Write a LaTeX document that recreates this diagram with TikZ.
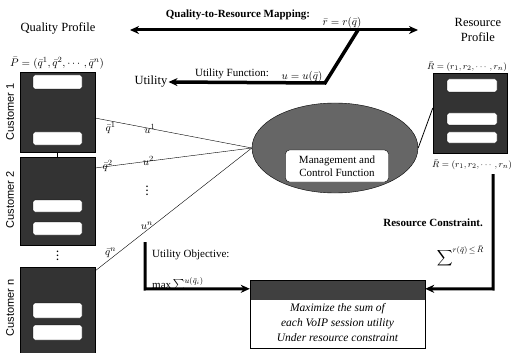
\documentclass[tikz,border=0pt]{standalone}
\usepackage{amssymb}
\usepackage{amsmath}
\usepackage{fontspec}
\setmainfont{Liberation Serif}
\newfontfamily\custfont{Liberation Sans}
\usetikzlibrary{arrows.meta,calc,shapes.geometric}

\tikzset{
  custbox/.style={draw=black, fill=black!80, minimum width=75pt, inner sep=0pt},
  slot/.style={draw=black, fill=white, rounded corners=2pt},
  bigarrow/.style={line width=3pt, -{Stealth[length=9pt,width=8pt]}},
  lbl/.style={font=\fontsize{11}{13}\selectfont, inner sep=1pt},
  smalllbl/.style={font=\fontsize{9.5}{11}\selectfont, inner sep=0.5pt},
  biglbl/.style={font=\fontsize{12.5}{15}\selectfont, inner sep=1pt},
  custlbl/.style={font=\custfont\fontsize{11}{13}\selectfont, rotate=90, inner sep=1pt},
}

\begin{document}
\begin{tikzpicture}[x=1pt, y=-1pt, >=Stealth]
\useasboundingbox (0,0) rectangle (512,353);

% quality profile side
\node[biglbl] (qp) at (58,28) {Quality Profile};
\node[lbl] (plabel) at (57,63) {$\bar{P}=(\bar{q}^1,\bar{q}^2,\cdots,\bar{q}^n)$};

\node[custbox, minimum height=80pt] (cust1) at (57.5,112) {};
\node[custbox, minimum height=88pt] (cust2) at (57.5,201) {};
\node[custbox, minimum height=86pt] (custn) at (57.5,310) {};
\draw[slot] (33,75) rectangle (82,89);
\draw[slot] (33,132) rectangle (82,145);
\draw[slot] (33,200) rectangle (82,212);
\draw[slot] (33,222) rectangle (82,235);
\draw[slot] (33,303) rectangle (82,318);
\draw[slot] (33,325) rectangle (82,340);
\draw[thick] (cust1.south) -- (cust2.north);
\node[font=\bfseries] (cdots) at (57.5,253) {$\vdots$};

\node[custlbl] (c1lbl) at (10,112) {Customer 1};
\node[custlbl] (c2lbl) at (10,200) {Customer 2};
\node[custlbl] (cnlbl) at (10,308) {Customer n};

% resource profile side
\node[biglbl, align=center] (rp) at (478,30) {Resource\\Profile};
\node[smalllbl] (rlabel) at (467,67) {$\bar{R}=(r_1,r_2,\cdots,r_n)$};
\node[custbox, minimum width=74pt, minimum height=80pt] (res) at (470,113) {};
\draw[slot] (447,79) rectangle (497,92);
\draw[slot] (447,113) rectangle (497,125);
\draw[slot] (447,132) rectangle (497,143);
\node[smalllbl] (rlabel2) at (472,165) {$\bar{R}=(r_1,r_2,\cdots,r_n)$};

% management and control
\node[ellipse, draw, fill=black!60, minimum width=166pt, minimum height=90pt] (mcf) at (335,148) {};
\node[draw, fill=white, rounded corners=4pt, minimum width=103pt, minimum height=32pt, align=center, lbl] (mgmt) at (337,166) {Management and\\Control Function};
\draw[thick] ($(res.west)+(0,-5)$) -- (mcf.east);

% customers to management
\coordinate (c1out) at (95,118);
\coordinate (c2out) at (95,168);
\coordinate (cnout) at (95,271);
\draw (c1out) -- (mcf.west)
  node[pos=0.1, below, lbl] {$\bar{q}^1$}
  node[pos=0.35, lbl] {$u^1$};
\draw (c2out) -- (mcf.west)
  node[pos=0.08, lbl] {$\bar{q}^2$}
  node[pos=0.34, lbl] {$u^2$};
\draw (cnout) -- (mcf.west)
  node[pos=0.1, above, lbl] {$\bar{q}^n$}
  node[pos=0.33, above, lbl] {$u^n$};
\node[font=\bfseries] (udots) at (147,188) {$\vdots$};

% mappings on top
\coordinate (mapL) at (130,30);
\coordinate (mapR) at (418,30);
\draw[line width=3pt, {Stealth[length=9pt,width=8pt]}-{Stealth[length=9pt,width=8pt]}] (mapL) -- (mapR);
\node[lbl, font=\bfseries\fontsize{11}{13}\selectfont] (maplbl) at (238,15) {Quality-to-Resource Mapping:};
\node[lbl] (rmap) at (342,23) {$\bar{r}=r(\bar{q})$};

\node[biglbl] (util) at (151,82) {Utility};
\coordinate (ufrom) at (358,30);
\coordinate (ubend) at (325,83);
\draw[bigarrow, line width=3.5pt] (ufrom) -- (ubend) -- (util.east);
\node[lbl] (ufunc) at (232,74) {Utility Function:};
\node[lbl] (umap) at (302,77) {$u=u(\bar{q})$};

% objective and constraint
\node[draw, fill=white, minimum width=175pt, minimum height=68pt] (goal) at (337.5,314) {};
\fill[black!75] (goal.north west) rectangle ($(goal.north east)+(0,20)$);
\draw (goal.north west) rectangle (goal.south east);
\node[align=center, font=\itshape\fontsize{11.5}{15}\selectfont] (goaltxt) at (337.5,323) {Maximize the sum of\\each VoIP session utility\\Under resource constraint};

\coordinate (objtop) at (145,242);
\coordinate (objbend) at (145,289);
\draw[bigarrow] (objtop) -- (objbend) -- ($(goal.north west)+(0,9)$);
\node[lbl, anchor=west] (objlbl) at (151,255) {Utility Objective:};
\node[lbl, anchor=west] (objmax) at (151,284) {$\max\sum\nolimits^{u(\bar{q}_i)}$};

\coordinate (restop) at (493,174);
\coordinate (resbend) at (493,289);
\draw[bigarrow] (restop) -- (resbend) -- ($(goal.north east)+(0,9)$);
\node[lbl, anchor=east, font=\bfseries\fontsize{11}{13}\selectfont] (reslbl) at (484,223) {Resource Constraint.};
\node[lbl, anchor=east] (resmax) at (485,256) {$\displaystyle\sum\nolimits^{r(\bar{q})\,\le\,\bar{R}}$};

\end{tikzpicture}
\end{document}
